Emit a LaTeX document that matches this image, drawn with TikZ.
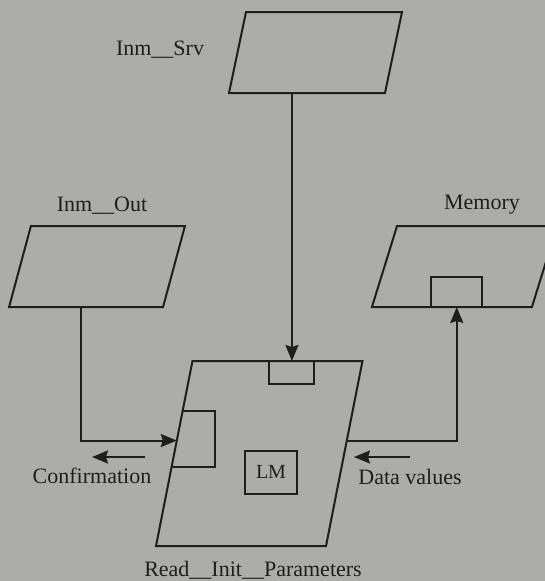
\documentclass[tikz,border=0pt]{standalone}
\usepackage{fontspec}
\setmainfont{Liberation Serif}
\usetikzlibrary{arrows.meta, calc}
\definecolor{scangray}{RGB}{172,172,168}
\definecolor{inkdark}{RGB}{30,30,30}
\tikzset{
  para/.style={rectangle, draw=inkdark, line width=2pt, inner sep=0pt,
    outer sep=0pt, transform shape, minimum height=81pt},
  portbox/.style={rectangle, draw=inkdark, line width=2pt, inner sep=0pt, outer sep=0pt},
  tagtext/.style={font=\fontsize{22}{26}\selectfont, text=inkdark, inner sep=0pt},
  flowarrow/.style={draw=inkdark, line width=2pt, -{Stealth[length=16pt, width=13pt, inset=2pt]}},
  edgeline/.style={draw=inkdark, line width=2pt}
}

\begin{document}
\begin{tikzpicture}[x=1pt, y=-1pt]
  % Page and background
  \fill[scangray] (0,0) rectangle (545,581);
  \useasboundingbox (0,0) rectangle (545,581);

  % Data stores
  \node[para, xslant=0.21, minimum width=156pt] (srv) at (315.5,52.5) {};
  \node[para, xslant=0.27, minimum width=154pt] (out) at (97,266.5) {};
  \node[para, xslant=0.31, minimum width=160pt] (mem) at (464.5,266.5) {};

  % Process
  \node[para, xslant=0.197, minimum width=170pt, minimum height=185pt] (rip) at (259.25,453.5) {};

  % Ports
  \node[portbox, minimum width=45pt, minimum height=23pt, anchor=north] (srvport)
    at ($(rip.north west)!0.585!(rip.north east)$) {};
  \node[portbox, minimum width=51pt, minimum height=30pt, anchor=south] (memport)
    at ($(mem.south west)!0.53!(mem.south east)$) {};
  \node[portbox, minimum width=52pt, minimum height=43pt, font=\fontsize{20}{24}\selectfont,
    text=inkdark] (lm) at (271,472) {LM};
  \coordinate (cfTop) at ($(rip.south west)!0.73!(rip.north west)$);
  \coordinate (cfBot) at ($(rip.south west)!0.427!(rip.north west)$);
  \coordinate (cfEdge) at (215,0);
  \draw[edgeline] (cfTop) -- (cfTop -| cfEdge) -- (cfBot -| cfEdge) -- (cfBot);

  % Labels
  \node[tagtext] (srvname) at (160,50) {Inm\_\_Srv};
  \node[tagtext] (outname) at (102,206) {Inm\_\_Out};
  \node[tagtext] (memname) at (482,205) {Memory};
  \node[tagtext] (ripname) at (253,570) {Read\_\_Init\_\_Parameters};
  \node[tagtext] (confname) at (92,476) {Confirmation};
  \node[tagtext] (dataname) at (410,477) {Data values};

  % Flows
  \coordinate (outFoot) at ($(out.south west)!0.47!(out.south east)$);
  \coordinate (ripLeft) at ($(rip.south west)!0.57!(rip.north west)$);
  \coordinate (ripRight) at ($(rip.south east)!0.57!(rip.north east)$);
  \draw[flowarrow] (srvport.north |- srv.south) -- (srvport.north);
  \draw[flowarrow] (outFoot) |- (ripLeft);
  \draw[flowarrow] (ripRight) -| (memport.south);

  % Direction marks
  \coordinate (confTail) at (145,457);
  \coordinate (dataTail) at (410,457);
  \coordinate (dataTip) at (354,457);
  \draw[flowarrow] (confTail) -- (confTail -| confname);
  \draw[flowarrow] (dataTail) -- (dataTip);
\end{tikzpicture}
\end{document}
